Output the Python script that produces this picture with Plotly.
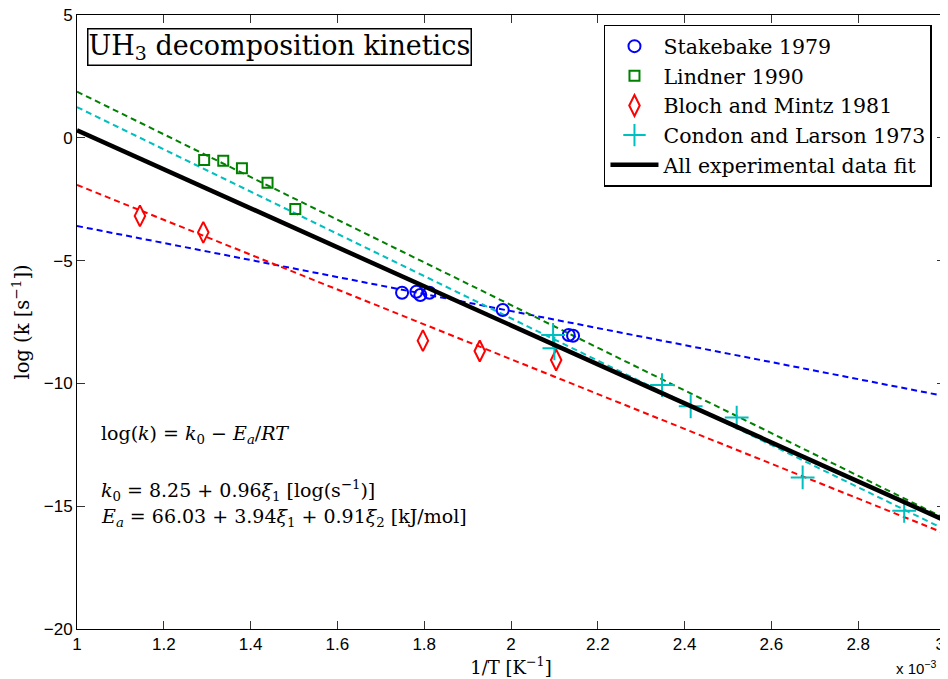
import plotly.graph_objects as go

# 1/T values in units of 1e-3 K^-1, log(k) values
stake_x = [1.749, 1.782, 1.791, 1.812, 1.981, 2.133, 2.143]
stake_y = [-6.31, -6.27, -6.40, -6.31, -7.01, -8.03, -8.06]

lind_x = [1.293, 1.337, 1.380, 1.439, 1.503]
lind_y = [-0.90, -0.93, -1.24, -1.83, -2.90]

bloch_x = [1.145, 1.291, 1.797, 1.928, 2.104]
bloch_y = [-3.18, -3.85, -8.26, -8.68, -9.05]

condon_x = [2.097, 2.100, 2.348, 2.414, 2.520, 2.672, 2.906]
condon_y = [-8.03, -8.57, -10.07, -10.93, -11.39, -13.83, -15.19]

# fitted lines: value at x=1 and x=3
fit_x = [1.0, 3.0]
stake_fit = [-3.59, -10.52]
lind_fit = [1.88, -15.50]
bloch_fit = [-1.92, -16.11]
condon_fit = [1.25, -15.95]
all_fit = [0.31, -15.58]

x_ticks = [1.0, 1.2, 1.4, 1.6, 1.8, 2.0, 2.2, 2.4, 2.6, 2.8, 3.0]
x_tick_labels = ["1", "1.2", "1.4", "1.6", "1.8", "2", "2.2", "2.4", "2.6", "2.8", "3\u2007"]
y_ticks = [-20, -15, -10, -5, 0, 5]

BLUE = "#0000FF"
GREEN = "#008000"
RED = "#FF0000"
CYAN = "#00BFBF"
SERIF = "DejaVu Serif"
SANS = "Liberation Sans"
DASH = "6px,4px"

fig = go.Figure()

# dashed fits
for yy, col in [(stake_fit, BLUE), (lind_fit, GREEN), (bloch_fit, RED), (condon_fit, CYAN)]:
    fig.add_trace(go.Scatter(x=fit_x, y=yy, mode="lines", showlegend=False,
                             line=dict(color=col, width=2, dash=DASH), hoverinfo="skip"))

fig.add_trace(go.Scatter(x=stake_x, y=stake_y, mode="markers", name="Stakebake 1979",
                         marker=dict(symbol="circle-open", size=12, color=BLUE, line=dict(width=2, color=BLUE))))
fig.add_trace(go.Scatter(x=lind_x, y=lind_y, mode="markers", name="Lindner 1990",
                         marker=dict(symbol="square-open", size=10, color=GREEN, line=dict(width=2, color=GREEN))))
fig.add_trace(go.Scatter(x=bloch_x, y=bloch_y, mode="markers", name="Bloch and Mintz 1981",
                         marker=dict(symbol="diamond-tall-open", size=15, color=RED, line=dict(width=2, color=RED))))
fig.add_trace(go.Scatter(x=condon_x, y=condon_y, mode="markers", name="Condon and Larson 1973",
                         marker=dict(symbol="cross-thin-open", size=17, color=CYAN, line=dict(width=2, color=CYAN))))
fig.add_trace(go.Scatter(x=fit_x, y=all_fit, mode="lines", name="All experimental data fit",
                         line=dict(color="black", width=4.5)))

axis_common = dict(showgrid=False, zeroline=False, showline=True, linecolor="black", linewidth=1,
                   mirror="ticks", ticks="inside", ticklen=8, tickcolor="#333333", tickwidth=1,
                   ticklabeloverflow="allow", automargin=False,
                   tickfont=dict(family=SANS, size=17, color="black"))

# page body has an 8px margin, so the figure is 8px smaller and margins are offset
fig.update_layout(
    width=940, height=671,
    margin=dict(l=69, r=3, t=7, b=50, autoexpand=False),
    paper_bgcolor="white", plot_bgcolor="white",
    xaxis=dict(range=[1, 3], tickvals=x_ticks, ticktext=x_tick_labels,
               title=dict(text="1/T [K<sup>−1</sup>]", font=dict(family=SERIF, size=18, color="black"), standoff=2),
               **axis_common),
    yaxis=dict(range=[-20, 5], tickvals=y_ticks,
               title=dict(text="log (k [s<sup>−1</sup>])", font=dict(family=SERIF, size=19.5, color="black"), standoff=17),
               **axis_common),
    legend=dict(x=0.985, y=0.984, xanchor="right", yanchor="top", bgcolor="white",
                bordercolor="black", borderwidth=1.5, font=dict(family=SERIF, size=20.5, color="black"),
                tracegroupgap=0, itemsizing="trace", itemwidth=48),
    showlegend=True,
)

fig.add_annotation(xref="paper", yref="paper", x=0.0115, y=0.979, xanchor="left", yanchor="top",
                   text="UH<sub>3</sub> decomposition kinetics", showarrow=False,
                   font=dict(family=SERIF, size=27, color="black"),
                   bordercolor="black", borderwidth=1.5, bgcolor="white", borderpad=0)

eq_font = dict(family=SERIF, size=19, color="black")
fig.add_annotation(xref="paper", yref="paper", x=0.025, y=0.316, xanchor="left", yanchor="middle",
                   text="log(<i>k</i>) = <i>k</i><sub>0</sub> − <i>E<sub>a</sub></i>/<i>RT</i>",
                   showarrow=False, font=eq_font)
fig.add_annotation(xref="paper", yref="paper", x=0.025, y=0.226, xanchor="left", yanchor="middle",
                   text="<i>k</i><sub>0</sub> = 8.25 + 0.96<i>ξ</i><sub>1</sub> [log(s<sup>−1</sup>)]",
                   showarrow=False, font=eq_font)
fig.add_annotation(xref="paper", yref="paper", x=0.025, y=0.182, xanchor="left", yanchor="middle",
                   text="<i>E<sub>a</sub></i> = 66.03 + 3.94<i>ξ</i><sub>1</sub> + 0.91<i>ξ</i><sub>2</sub> [kJ/mol]",
                   showarrow=False, font=eq_font)

fig.add_annotation(xref="paper", yref="paper", x=0.992, y=-0.062, xanchor="right", yanchor="middle",
                   text="x 10<sup>−3</sup>", showarrow=False,
                   font=dict(family=SANS, size=15, color="black"))

fig.write_html("out.html")
